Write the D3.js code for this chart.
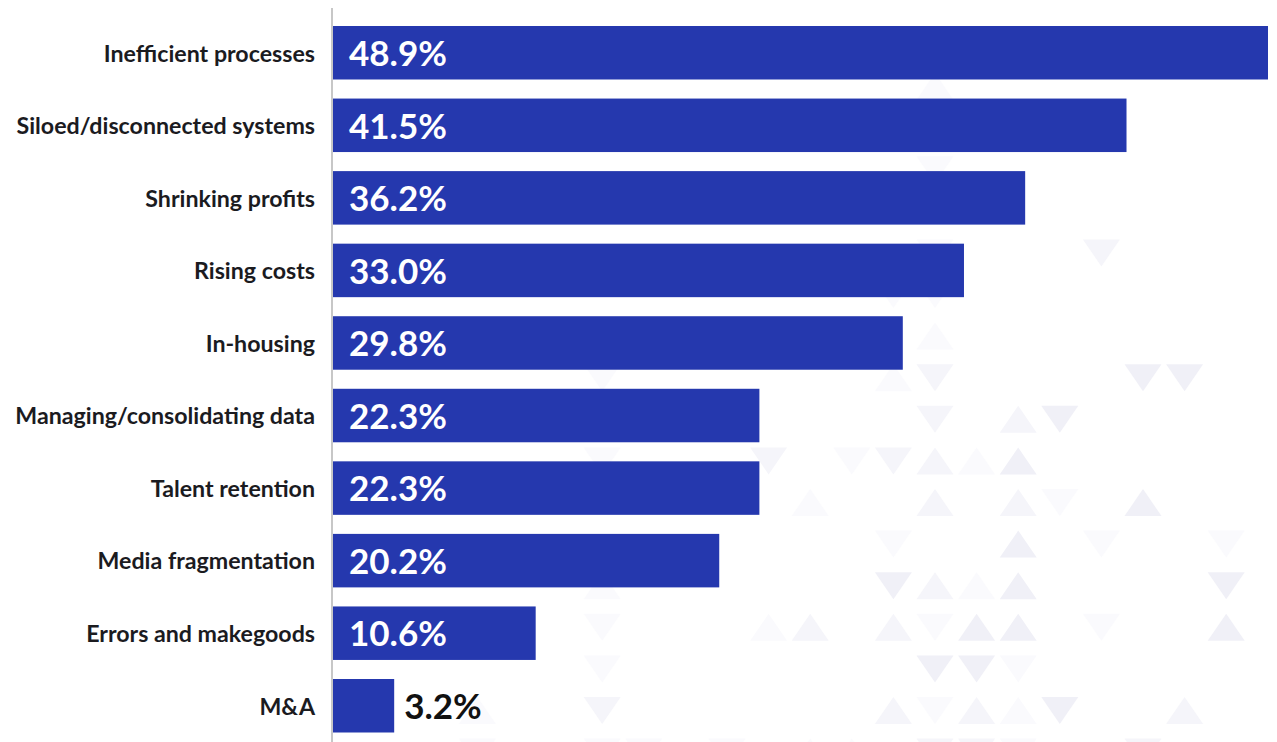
<!DOCTYPE html>
<html>
<head>
<meta charset="utf-8">
<script src="https://cdn.jsdelivr.net/npm/d3@7/dist/d3.min.js"></script>
<style>
  html, body { margin: 0; padding: 0; background: #ffffff; }
  svg { display: block; }
  .cat { font-family: Lato, "Open Sans", sans-serif; font-weight: 700; font-size: 23.2px; fill: #1b1b1f; }
  .val { font-family: Lato, "Open Sans", sans-serif; font-weight: 700; font-size: 35px; }
</style>
</head>
<body>
<svg id="chart" width="1277" height="742"></svg>
<script>
// Challenges reported (share of respondents, %)
const categories = [
  "Inefficient processes",
  "Siloed/disconnected systems",
  "Shrinking profits",
  "Rising costs",
  "In-housing",
  "Managing/consolidating data",
  "Talent retention",
  "Media fragmentation",
  "Errors and makegoods",
  "M&A"
];
const values = [48.9, 41.5, 36.2, 33.0, 29.8, 22.3, 22.3, 20.2, 10.6, 3.2];

// Decorative triangle pattern in the background: [column, row, direction, shade]
const triangles = [
  [0, -10, "U", 1],
  [0, -8, "D", 1],
  [0, -6, "D", 1], [4, -6, "D", 2],
  [-1, -5, "D", 1], [0, -5, "D", 1],
  [0, -4, "U", 1],
  [-8, -3, "D", 1], [-1, -3, "U", 1], [0, -3, "D", 2], [5, -3, "D", 3], [6, -3, "D", 3],
  [0, -2, "D", 2], [2, -2, "U", 2], [3, -2, "D", 3],
  [-8, -1, "D", 1], [-4, -1, "D", 2], [-2, -1, "D", 1], [-1, -1, "D", 2], [0, -1, "U", 2], [1, -1, "U", 1], [2, -1, "U", 3],
  [-3, 0, "U", 1], [0, 0, "U", 2], [2, 0, "U", 2], [3, 0, "D", 1], [5, 0, "U", 3],
  [-1, 1, "D", 1], [2, 1, "U", 3], [4, 1, "D", 1], [7, 1, "D", 1],
  [-8, 2, "U", 1], [-1, 2, "D", 3], [0, 2, "U", 2], [1, 2, "U", 1], [2, 2, "U", 3], [7, 2, "D", 3],
  [-8, 3, "D", 1], [-4, 3, "U", 1], [-3, 3, "U", 2], [-1, 3, "U", 2], [0, 3, "D", 1], [1, 3, "U", 3], [2, 3, "U", 3], [4, 3, "D", 1], [7, 3, "U", 3],
  [-8, 4, "D", 1], [0, 4, "D", 3], [1, 4, "D", 3], [2, 4, "D", 1],
  [-11, 5, "U", 1], [-8, 5, "D", 2], [-1, 5, "U", 2], [0, 5, "D", 1], [1, 5, "U", 2], [2, 5, "U", 1], [3, 5, "D", 3], [6, 5, "U", 2],
  [-11, 6, "D", 1], [-8, 6, "D", 1], [-7, 6, "D", 1], [-5, 6, "D", 1], [-3, 6, "U", 1], [-2, 6, "U", 1], [0, 6, "D", 2], [1, 6, "D", 2], [2, 6, "D", 1], [5, 6, "D", 2]
];
const shadeColors = ["#fafafd", "#f5f5fa", "#f0f0f7"];

const W = 1277, H = 742;
const margin = { left: 333, right: 9, top: 26, bottom: 10 };
const barColor = "#2538ae";

const svg = d3.select("#chart");

// --- background pattern ---
const cell = 41.6, triW = 37, triH = 27;
const patX = d3.scaleLinear().domain([0, 1]).range([935, 935 + cell]);
const patY = d3.scaleLinear().domain([0, 1]).range([489, 489 + cell]);
svg.append("g").attr("class", "pattern")
  .selectAll("path")
  .data(triangles)
  .join("path")
  .attr("d", d => {
    const cx = patX(d[0]), top = patY(d[1]), bot = top + triH;
    return d[2] === "U"
      ? `M${cx},${top}L${cx + triW / 2},${bot}L${cx - triW / 2},${bot}Z`
      : `M${cx - triW / 2},${top}L${cx + triW / 2},${top}L${cx},${bot}Z`;
  })
  .attr("fill", d => shadeColors[d[3] - 1]);

// --- scales ---
const x = d3.scaleLinear()
  .domain([0, d3.max(values)])
  .range([margin.left, W - margin.right]);

const y = d3.scaleBand()
  .domain(categories)
  .range([margin.top, 732.5])
  .paddingInner(0.2627)
  .paddingOuter(0);

const rows = categories.map((c, i) => ({ cat: c, value: values[i] }));

// --- bars ---
svg.append("g")
  .selectAll("rect")
  .data(rows)
  .join("rect")
  .attr("x", x(0))
  .attr("y", d => y(d.cat))
  .attr("width", d => x(d.value) - x(0))
  .attr("height", y.bandwidth())
  .attr("fill", barColor);

// --- category axis ---
const yAxis = d3.axisLeft(y).tickSize(0).tickPadding(17);
const gy = svg.append("g")
  .attr("transform", `translate(${margin.left - 1},0)`)
  .call(yAxis);
gy.select(".domain").remove();
gy.attr("font-size", null).attr("font-family", null);
gy.selectAll("text")
  .attr("class", "cat")
  .attr("dy", "0.38em");

// vertical baseline
svg.append("line")
  .attr("x1", margin.left - 1).attr("x2", margin.left - 1)
  .attr("y1", 8).attr("y2", H)
  .attr("stroke", "#b5b5b5")
  .attr("stroke-width", 1.5);

// --- value labels ---
const fmt = d => d3.format(".1f")(d) + "%";
const labels = svg.append("g")
  .selectAll("text")
  .data(rows)
  .join("text")
  .attr("class", "val")
  .attr("y", d => y(d.cat) + y.bandwidth() / 2)
  .attr("dy", "0.38em")
  .text(d => fmt(d.value));

labels.each(function (d) {
  const t = d3.select(this);
  const w = this.getComputedTextLength();
  const barW = x(d.value) - x(0);
  if (w + 34 < barW) {
    t.attr("x", x(0) + 16).attr("fill", "#ffffff");
  } else {
    t.attr("x", x(d.value) + 10).attr("fill", "#111111");
  }
});
</script>
</body>
</html>
